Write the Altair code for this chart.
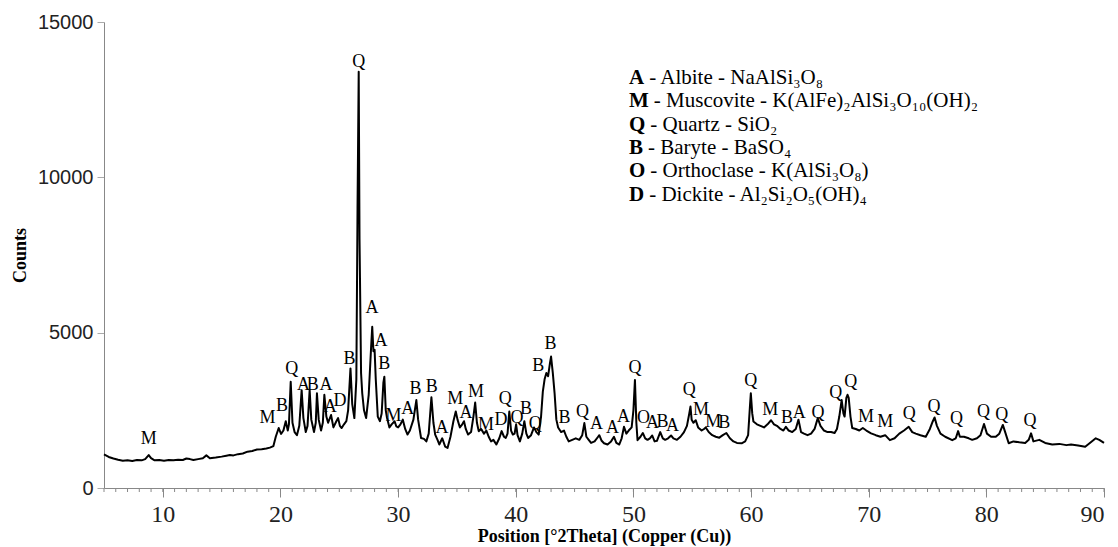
import altair as alt
import pandas as pd

# ---- XRD trace (2θ, counts) ----
two_theta = [5.0, 5.4, 5.8, 6.2, 6.6, 7.0, 7.4, 7.8, 8.2, 8.5, 8.8, 9.0, 9.3, 9.7, 10.1, 10.5, 10.9, 11.3,
             11.7, 12.0, 12.3, 12.6, 13.0, 13.4, 13.7, 14.0, 14.5, 15.0, 15.4, 15.7, 16.0, 16.4, 16.8,
             17.2, 17.6, 18.0, 18.4, 18.8, 19.1, 19.4, 19.6, 19.85, 20.05, 20.25, 20.45, 20.62, 20.72,
             20.87, 21.02, 21.2, 21.4, 21.6, 21.8, 21.95, 22.15, 22.3, 22.48, 22.62, 22.85, 23.0, 23.1,
             23.25, 23.45, 23.6, 23.73, 23.9, 24.05, 24.3, 24.5, 24.75, 24.9, 25.05, 25.2, 25.4, 25.6,
             25.75, 25.95, 26.1, 26.28, 26.45, 26.55, 26.65, 26.72, 26.85, 26.95, 27.1, 27.28, 27.5,
             27.7, 27.8, 27.9, 28.0, 28.1, 28.27, 28.45, 28.6, 28.75, 28.83, 28.95, 29.05, 29.26, 29.45,
             29.7, 29.85, 30.0, 30.2, 30.4, 30.6, 30.8, 31.0, 31.3, 31.55, 31.7, 31.95, 32.2, 32.4, 32.6,
             32.83, 33.0, 33.15, 33.35, 33.5, 33.75, 34.0, 34.2, 34.45, 34.7, 34.9, 35.05, 35.25, 35.45,
             35.6, 35.75, 35.95, 36.2, 36.4, 36.55, 36.7, 36.85, 37.05, 37.3, 37.5, 37.7, 37.9, 38.1,
             38.35, 38.6, 38.8, 39.0, 39.15, 39.3, 39.45, 39.6, 39.75, 39.9, 40.03, 40.15, 40.35, 40.55,
             40.73, 40.9, 41.05, 41.3, 41.55, 41.75, 41.95, 42.15, 42.3, 42.45, 42.6, 42.75, 42.9, 43.0,
             43.15, 43.3, 43.45, 43.6, 43.85, 44.1, 44.3, 44.5, 44.8, 45.1, 45.4, 45.65, 45.83, 46.0,
             46.2, 46.4, 46.7, 47.0, 47.1, 47.3, 47.5, 47.8, 48.1, 48.35, 48.55, 48.8, 49.0, 49.2, 49.4,
             49.6, 49.85, 50.0, 50.13, 50.25, 50.35, 50.6, 50.8, 51.0, 51.2, 51.4, 51.6, 51.8, 52.0,
             52.28, 52.5, 52.7, 52.95, 53.2, 53.4, 53.7, 54.0, 54.3, 54.55, 54.75, 54.85, 54.95, 55.1,
             55.3, 55.5, 55.8, 56.0, 56.15, 56.4, 56.7, 57.0, 57.3, 57.6, 57.9, 58.2, 58.5, 58.8, 59.2,
             59.5, 59.75, 59.9, 59.98, 60.1, 60.2, 60.5, 60.8, 61.1, 61.4, 61.7, 61.95, 62.2, 62.5,
             62.75, 62.96, 63.2, 63.5, 63.8, 64.03, 64.25, 64.5, 64.8, 65.1, 65.4, 65.67, 65.9, 66.2,
             66.5, 66.8, 67.1, 67.3, 67.5, 67.7, 67.85, 67.95, 68.1, 68.2, 68.3, 68.45, 68.6, 68.9,
             69.2, 69.5, 69.8, 70.2, 70.6, 71.0, 71.4, 71.8, 72.2, 72.6, 73.0, 73.4, 73.7, 74.0, 74.4,
             74.85, 75.2, 75.45, 75.6, 75.8, 76.1, 76.5, 77.1, 77.4, 77.6, 77.75, 78.1, 78.5, 78.8,
             79.2, 79.5, 79.8, 80.05, 80.4, 80.8, 81.1, 81.4, 81.6, 81.9, 82.3, 82.8, 83.3, 83.6, 83.8,
             84.0, 84.5, 85.0, 85.6, 86.2, 86.8, 87.2, 87.8, 88.4, 88.8, 89.3, 89.6, 90.0]
counts = [1080, 1000, 950, 910, 880, 890, 870, 900, 890, 930, 1060, 960, 890, 900, 880, 900, 890, 910,
          900, 950, 930, 900, 930, 960, 1050, 960, 980, 1010, 1040, 1060, 1050, 1090, 1110,
          1170, 1190, 1240, 1250, 1270, 1300, 1350, 1650, 1930, 1740, 1850, 2150, 1850, 2050,
          3420, 2100, 1800, 1700, 2000, 3150, 2250, 1800, 2000, 3150, 2200, 1800, 2100, 3050,
          2200, 1850, 2100, 3000, 2300, 2100, 2350, 1950, 2150, 2250, 2000, 1930, 2050, 2150,
          2500, 3850, 2700, 2250, 3500, 9000, 13400, 8000, 3700, 3050, 2500, 2250, 3000,
          4500, 5190, 4400, 4450, 3500, 2300, 2150, 2400, 3400, 3580, 2500, 2270, 1950, 2050,
          2150, 1980, 1950, 2050, 2200, 1900, 1720, 1850, 2200, 2830, 2200, 1610, 1580, 1500, 1750,
          2920, 2100, 1720, 1550, 1400, 1600, 1330, 1290, 1650, 2150, 2460, 2200, 1950, 2050,
          2150, 1900, 1720, 1800, 2300, 2750, 2100, 1830, 1900, 1750, 1850, 1650, 1500, 1550,
          1400, 1600, 1830, 1650, 1610, 1750, 2460, 1850, 1720, 1750, 2050, 1700, 1500, 1750,
          2150, 1750, 1610, 1700, 1950, 1800, 1720, 2300, 3100, 3500, 3700, 3600, 4000, 4230,
          3700, 3050, 2200, 1950, 1800, 1850, 1650, 1500, 1550, 1600, 1550, 1700, 2090, 1650,
          1550, 1450, 1500, 1650, 1700, 1520, 1440, 1400, 1500, 1650, 1450, 1400, 1600, 1970, 1750,
          1850, 1950, 2500, 3480, 2100, 1540, 1650, 1770, 1600, 1550, 1600, 1690, 1500, 1520,
          1800, 1600, 1550, 1600, 1690, 1600, 1550, 1650, 1800, 2000, 2400, 2620, 2200, 2100,
          2180, 1950, 1850, 1900, 1950, 1800, 1700, 1650, 1620, 1700, 1770, 1600, 1500, 1450, 1440,
          1500, 1700, 2600, 3050, 2400, 2140, 2050, 2000, 1950, 2050, 2180, 2050, 2000, 1900,
          1850, 1970, 1850, 1800, 1900, 2200, 1800, 1750, 1700, 1750, 1900, 2250, 2000, 1850,
          1800, 1800, 1770, 1900, 2300, 2830, 2400, 2300, 2900, 3000, 2900, 2300, 1930, 1900,
          1850, 1930, 1850, 1760, 1700, 1650, 1700, 1540, 1600, 1750, 1850, 1970, 1800, 1750, 1700,
          1650, 1900, 2150, 2270, 2000, 1750, 1650, 1540, 1600, 1830, 1650, 1650, 1600, 1550,
          1600, 1700, 2060, 1750, 1650, 1650, 1750, 2030, 1800, 1440, 1500, 1470, 1450, 1550, 1760,
          1500, 1550, 1450, 1400, 1420, 1380, 1400, 1370, 1330, 1450, 1600, 1550, 1450]

# ---- phase labels above peaks ----
peak_letters = ["M", "M", "B", "Q", "A", "B", "A", "A", "D", "B", "Q", "A", "A", "B", "M", "A",
                "B", "B", "A", "M", "A", "M", "M", "D", "Q", "Q", "B", "Q", "B", "B", "B", "Q",
                "A", "A", "A", "Q", "O", "A", "B", "A", "Q", "M", "M", "B", "Q", "M", "B", "A",
                "Q", "Q", "Q", "M", "M", "Q", "Q", "Q", "Q", "Q", "Q"]
peak_label_x = [8.8, 18.9, 20.14, 20.96, 21.95, 22.74, 23.88, 24.24, 25.07, 25.86, 26.65, 27.79,
                28.55, 28.83, 29.6, 30.81, 31.47, 32.85, 33.73, 34.86, 35.77, 36.62, 37.47, 38.75,
                39.11, 40.1, 40.87, 41.66, 41.92, 42.96, 44.15, 45.68, 46.87, 48.23, 49.16, 50.13,
                50.86, 51.63, 52.48, 53.33, 54.75, 55.74, 56.78, 57.72, 59.98, 61.63, 63.05, 64.09,
                65.7, 67.2, 68.48, 69.76, 71.4, 73.44, 75.56, 77.46, 79.75, 81.31, 83.7]
peak_label_y = [1570, 2240, 2640, 3820, 3315, 3315, 3315, 2600, 2810, 4140, 13720, 5780,
                4730, 3990, 2320, 2530, 3190, 3240, 1920, 2850, 2430, 3090, 2030, 2190,
                2860, 2240, 2530, 2060, 3930, 4630, 2260, 2440, 2050, 1920, 2280, 3850,
                2240, 2080, 2130, 2000, 3150, 2510, 2130, 2080, 3440, 2510, 2260, 2400,
                2420, 3050, 3400, 2300, 2110, 2380, 2600, 2210, 2460, 2350, 2160]

# ---- key ----
legend_codes = ["A", "M", "Q", "B", "O", "D"]
legend_texts = ["- Albite - NaAlSi₃O₈",
                "- Muscovite - K(AlFe)₂AlSi₃O₁₀(OH)₂",
                "- Quartz - SiO₂",
                "- Baryte - BaSO₄",
                "- Orthoclase - K(AlSi₃O₈)",
                "- Dickite - Al₂Si₂O₅(OH)₄"]

x_ticks = [10, 20, 30, 40, 50, 60, 70, 80, 90]
minor_ticks = list(range(5, 91))
y_ticks = [0, 5000, 10000, 15000]

W, H = 1000, 466
SERIF = "Liberation Serif"
KEY_SIZE = 21

trace = pd.DataFrame({"theta": two_theta, "counts": counts})
labels = pd.DataFrame({"t": peak_letters, "lx": peak_label_x, "ly": peak_label_y})
minor = pd.DataFrame({"m": minor_ticks})

code_em = {"A": 0.722, "M": 0.944, "Q": 0.778, "B": 0.667, "O": 0.778, "D": 0.722}
key = pd.DataFrame({
    "code": legend_codes,
    "text": legend_texts,
    "px": [525] * len(legend_codes),
    "px2": [525 + code_em[c] * KEY_SIZE + 5 for c in legend_codes],
    "py": [56 + i * 23.3 for i in range(len(legend_codes))],
})

xs = alt.Scale(domain=[5, 90], nice=False, zero=False)
ys = alt.Scale(domain=[0, 15000], nice=False)

line = alt.Chart(trace).mark_line(color="black", strokeWidth=2, strokeJoin="round").encode(
    x=alt.X("theta:Q", scale=xs,
            axis=alt.Axis(values=x_ticks, title="Position [°2Theta] (Copper (Cu))",
                          grid=False, tickSize=9, tickColor="#888", domainColor="#888",
                          labelFont="Liberation Sans Narrow", labelFontSize=24, labelColor="#222",
                          labelPadding=5, titleFont=SERIF, titleFontWeight="bold",
                          titleFontSize=18, titleColor="black", titlePadding=1)),
    y=alt.Y("counts:Q", scale=ys,
            axis=alt.Axis(values=y_ticks, format="d", title="Counts", grid=False,
                          tickSize=7, tickColor="#aaa", domainColor="#888",
                          labelFont="Liberation Sans", labelFontSize=20, labelColor="#222",
                          labelPadding=4, titleFont=SERIF, titleFontWeight="bold",
                          titleFontSize=18, titleColor="black", titlePadding=8)),
)

minor_layer = alt.Chart(minor).mark_rule(color="#888", strokeWidth=1).encode(
    x=alt.X("m:Q", scale=xs), y=alt.value(H), y2=alt.value(H + 4))

peak_text = alt.Chart(labels).mark_text(font=SERIF, fontSize=18, color="black",
                                        baseline="middle", align="center").encode(
    x=alt.X("lx:Q", scale=xs), y=alt.Y("ly:Q", scale=ys), text="t:N")

key_code = alt.Chart(key).mark_text(font=SERIF, fontSize=KEY_SIZE, fontWeight="bold", color="black",
                                    baseline="middle", align="left").encode(
    x=alt.X("px:Q", scale=None), y=alt.Y("py:Q", scale=None), text="code:N")
key_text = alt.Chart(key).mark_text(font=SERIF, fontSize=KEY_SIZE, color="black",
                                    baseline="middle", align="left").encode(
    x=alt.X("px2:Q", scale=None), y=alt.Y("py:Q", scale=None), text="text:N")

chart = alt.layer(line, minor_layer, peak_text, key_code, key_text).properties(
    width=W, height=H,
    autosize=alt.AutoSizeParams(type="none"),
    padding={"left": 104, "top": 22, "right": 14, "bottom": 59},
    background="white",
).configure_view(stroke=None)

chart.save("out.html", embed_options={"renderer": "svg", "actions": False})
